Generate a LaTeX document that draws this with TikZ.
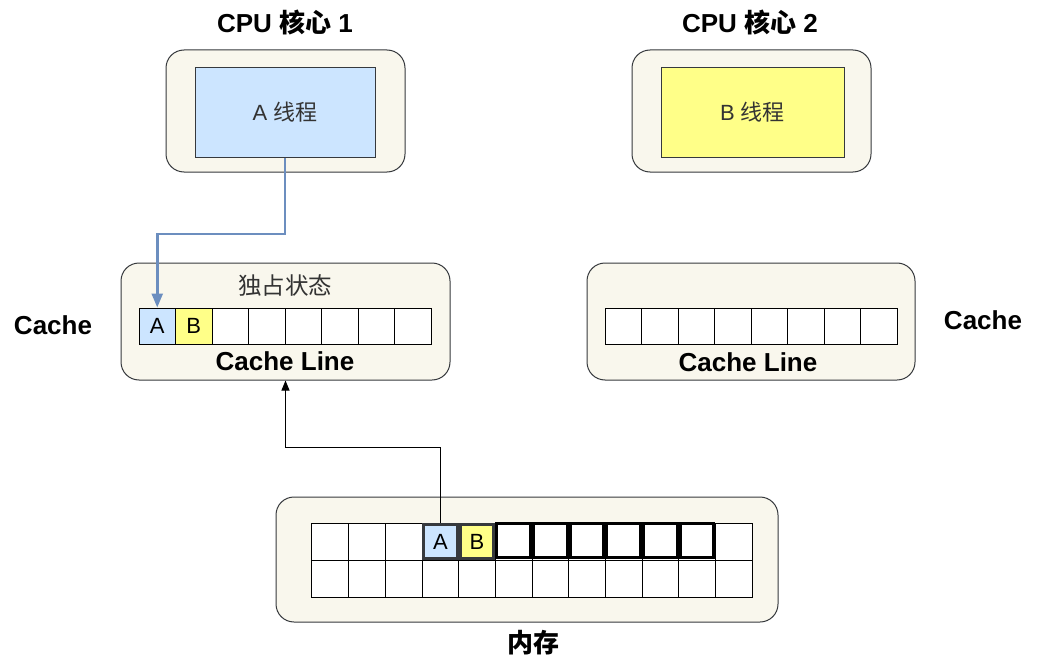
\documentclass[tikz,border=0pt]{standalone}
\usepackage{fontspec}
\setmainfont{Liberation Sans}
\newfontfamily\cjk{Noto Sans CJK SC}
\usetikzlibrary{arrows.meta}
\definecolor{boxfill}{HTML}{F9F7ED}
\definecolor{boxline}{HTML}{36393D}
\definecolor{bluefill}{HTML}{CCE5FF}
\definecolor{yelfill}{HTML}{FFFF88}
\definecolor{bluearrow}{HTML}{6C8EBF}
\definecolor{txtgray}{HTML}{333333}
\begin{document}
\begin{tikzpicture}[x=1pt,y=-1pt,
  outerbox/.style={draw=boxline, fill=boxfill, rounded corners=18pt, line width=1pt, inner sep=0pt},
  thread/.style={draw=boxline, line width=1pt, inner sep=0pt, minimum width=180pt, minimum height=89pt, font=\fontsize{22}{26}\selectfont, text=txtgray},
  cell/.style={draw=black, fill=white, line width=1pt, inner sep=0pt, minimum width=36.5pt, minimum height=36pt, font=\fontsize{22}{26}\selectfont},
  mcell/.style={draw=black, fill=white, line width=1pt, inner sep=0pt, minimum width=36.67pt, minimum height=37pt, font=\fontsize{22}{26}\selectfont},
  title/.style={font=\fontsize{26}{30}\selectfont\bfseries, text=black},
  lbl/.style={font=\fontsize{23.5}{28}\selectfont, text=txtgray}
]
\useasboundingbox (0,0) rectangle (1037,669);
\fill[white] (0,0) rectangle (1037,669);

% CPU cores
\node[title] (t1) at (285,22) {CPU {\cjk 核心} 1};
\node[title] (t2) at (750,22) {CPU {\cjk 核心} 2};
\node[outerbox, minimum width=239pt, minimum height=122pt] (core1) at (285.5,111) {};
\node[outerbox, minimum width=239pt, minimum height=122pt] (core2) at (751.5,111) {};
\node[thread, fill=bluefill] (thA) at (285,112.5) {A {\cjk 线程}};
\node[thread, fill=yelfill, minimum width=183pt] (thB) at (752.5,112.5) {B {\cjk 线程}};

% Caches
\node[outerbox, minimum width=329pt, minimum height=117pt] (cache1) at (285.5,321.5) {};
\node[outerbox, minimum width=328pt, minimum height=117pt] (cache2) at (751,321.5) {};
\node[lbl] (excl) at (285,286) {\cjk 独占状态};
\foreach \i in {0,...,7} {
  \node[cell] (ca-\i) at ({139+36.5*\i+18.25},326) {};
  \node[cell] (cb-\i) at ({605+36.5*\i+18.25},326) {};
}
\node[cell, fill=bluefill] (caA) at (ca-0) {A};
\node[cell, fill=yelfill] (caB) at (ca-1) {B};
\node[title] (cl1) at (285,361) {Cache Line};
\node[title] (cl2) at (748,362) {Cache Line};
\node[title] (cachel) at (53,325) {Cache};
\node[title] (cacher) at (983,320) {Cache};

% Memory
\node[outerbox, minimum width=502pt, minimum height=125pt] (mem) at (527,559.5) {};
\foreach \i in {0,...,11} {
  \node[mcell] (m-\i) at ({312+36.67*\i+18.33},541.5) {};
  \node[mcell] (n-\i) at ({312+36.67*\i+18.33},578.5) {};
}
\foreach \i in {5,...,10} {
  \node[mcell, line width=3pt, minimum width=33.67pt, minimum height=34pt] (k-\i) at ({312+36.67*\i+18.33},540.5) {};
}
\node[mcell, fill=bluefill, draw=boxline, line width=3pt, minimum width=33.67pt, minimum height=34pt] (mA) at (m-3) {A};
\node[mcell, fill=yelfill, draw=boxline, line width=3pt, minimum width=33.67pt, minimum height=34pt] (mB) at (m-4) {B};
\node[title] (memlbl) at (533,643) {\cjk 内存};

% Connectors
\coordinate (bend1) at (0,234);
\coordinate (bend2) at (0,447);
\draw[bluearrow, line width=2.5pt, -{Triangle[width=11pt,length=14pt]}]
  (thA.south) -- (thA.south |- bend1) -| (caA.north);
\draw[black, line width=1pt, -{Triangle[width=8pt,length=10pt]}]
  (mA.north) -- (mA.north |- bend2) -| (cache1.south);
\end{tikzpicture}
\end{document}
